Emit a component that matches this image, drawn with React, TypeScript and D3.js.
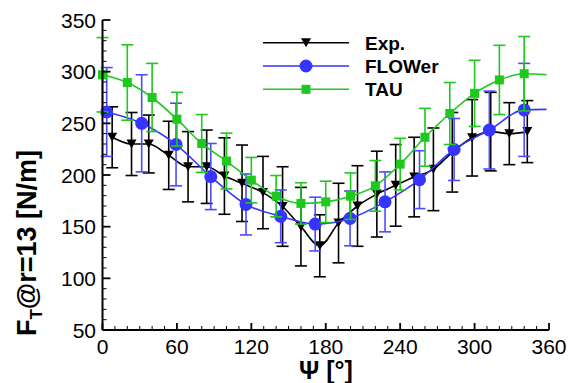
import React from "react";
import * as d3 from "d3";

// ---- data ----
const expPsi = [7.8, 23.4, 37.3, 53.4, 69, 84, 98.3, 112.5, 129.4, 145.2, 160, 175.2, 190.3, 205.6, 221.2, 236.4, 251.3, 266.8, 282, 298, 313, 328, 342.5];
const expVal = [236.5, 230, 230, 219, 208, 208, 199, 192, 183, 169.5, 150, 131.5, 153.5, 170, 181.5, 190, 198, 205.5, 222, 236, 242, 240, 242];
const expErr = [29.5, 30.5, 28, 33, 34, 35.5, 37, 37, 35, 38.5, 38, 30, 38.5, 39, 41.5, 39.5, 38.5, 40, 38.5, 37, 38, 30, 30];

const flowerPsi = [3.4, 31.6, 59.3, 87.3, 115.7, 143.7, 171.5, 199.6, 227.8, 255.6, 283.5, 311.9, 340];
const flowerVal = [261, 250, 229.5, 198.5, 171.5, 160, 152.5, 158, 174, 195.5, 224.7, 243.5, 263];
const flowerErr = [43, 47, 40, 32, 29.5, 25.5, 26, 26.5, 29, 28, 30, 37.7, 45];
const flowerTailPsi = [358];
const flowerTailVal = [263.5];

const tauPsi = [0, 20, 40, 60, 80, 100, 120, 140, 160, 180, 200, 220, 240, 260, 280, 300, 320, 340];
const tauVal = [297, 289.5, 275, 254, 230.5, 213.5, 195, 179.5, 172.5, 174, 179.5, 189.5, 210.5, 236.5, 259.5, 279, 292, 298];
const tauErr = [36, 36.5, 33, 26, 28, 27, 22, 20, 20, 20, 22.5, 24.5, 25, 28, 30, 32, 33.5, 36];
const tauTailPsi = [358];
const tauTailVal = [297];

const xTicks = [0, 60, 120, 180, 240, 300, 360];
const yTicks = [50, 100, 150, 200, 250, 300, 350];
const legendLabels = ["Exp.", "FLOWer", "TAU"];

const BLACK = "#000000";
const BLUE = "#3535ff";
const BLUE_BAR = "#4b4bff";
const GREEN = "#1ec81e";

const FONT = "'Liberation Sans', Arial, Helvetica, sans-serif";

export default function App() {
  const W = 570, H = 383;
  const x = d3.scaleLinear().domain([0, 360]).range([102.5, 549]);
  const y = d3.scaleLinear().domain([50, 350]).range([330, 20]);

  const xMinor = d3.range(0, 361, 10);
  const yMinor = d3.range(50, 351, 10);

  const line = d3
    .line<[number, number]>()
    .x((d) => x(d[0]))
    .y((d) => y(d[1]))
    .curve(d3.curveMonotoneX);

  const zip = (a: number[], b: number[]) => a.map((v, i) => [v, b[i]] as [number, number]);

  const triPath = "M-5,-4.5L5,-4.5L0,4.5Z";

  const errorBars = (ps: number[], vs: number[], es: number[], color: string, key: string) =>
    ps.map((p, i) => {
      const cx = x(p);
      const y1 = y(vs[i] + es[i]);
      const y2 = y(vs[i] - es[i]);
      return (
        <g key={key + i} stroke={color} strokeWidth={1.6} fill="none">
          <line x1={cx} x2={cx} y1={y1} y2={y2} />
          <line x1={cx - 6} x2={cx + 6} y1={y1} y2={y1} />
          <line x1={cx - 6} x2={cx + 6} y1={y2} y2={y2} />
        </g>
      );
    });

  const legendY = [42.7, 66, 89.3];

  return (
    <svg
      width={W}
      height={H}
      style={{ position: "absolute", left: 0, top: 0, background: "#fff" }}
      fontFamily={FONT}
    >
      {/* Exp series */}
      <g>
        {errorBars(expPsi, expVal, expErr, BLACK, "eb")}
        <path d={line(zip(expPsi, expVal)) || ""} fill="none" stroke={BLACK} strokeWidth={1.6} />
        {expPsi.map((p, i) => (
          <path key={"em" + i} d={triPath} transform={`translate(${x(p)},${y(expVal[i])})`} fill={BLACK} />
        ))}
      </g>
      {/* FLOWer series */}
      <g>
        {errorBars(flowerPsi, flowerVal, flowerErr, BLUE_BAR, "fb")}
        <path
          d={line(zip(flowerPsi.concat(flowerTailPsi), flowerVal.concat(flowerTailVal))) || ""}
          fill="none"
          stroke={BLUE}
          strokeWidth={1.6}
        />
        {flowerPsi.map((p, i) => (
          <circle key={"fm" + i} cx={x(p)} cy={y(flowerVal[i])} r={6.5} fill={BLUE} />
        ))}
      </g>
      {/* TAU series */}
      <g>
        {errorBars(tauPsi, tauVal, tauErr, GREEN, "tb")}
        <path
          d={line(zip(tauPsi.concat(tauTailPsi), tauVal.concat(tauTailVal))) || ""}
          fill="none"
          stroke={GREEN}
          strokeWidth={1.6}
        />
        {tauPsi.map((p, i) => (
          <rect key={"tm" + i} x={x(p) - 4.5} y={y(tauVal[i]) - 4.5} width={9} height={9} fill={GREEN} />
        ))}
      </g>

      {/* axes */}
      <g stroke="#000" fill="none">
        <line x1={x(0)} x2={x(360)} y1={y(50)} y2={y(50)} strokeWidth={2} />
        <line x1={x(0)} x2={x(0)} y1={y(50)} y2={y(350)} strokeWidth={2} />
        {xMinor.map((t) => (
          <line key={"xm" + t} x1={x(t)} x2={x(t)} y1={y(50)} y2={y(50) - (t % 60 === 0 ? 7 : 4)} strokeWidth={t % 60 === 0 ? 1.8 : 1} />
        ))}
        {yMinor.map((t) => (
          <line key={"ym" + t} x1={x(0)} x2={x(0) + (t % 50 === 0 ? 8 : 4)} y1={y(t)} y2={y(t)} strokeWidth={t % 50 === 0 ? 1.8 : 1} />
        ))}
      </g>
      <g fontSize={21} fill="#000">
        {xTicks.map((t) => (
          <text key={"xt" + t} x={x(t)} y={354} textAnchor="middle">
            {t}
          </text>
        ))}
        {yTicks.map((t) => (
          <text key={"yt" + t} x={96} y={y(t)} dy="0.36em" textAnchor="end">
            {t}
          </text>
        ))}
      </g>

      {/* axis titles */}
      <text x={326} y={379} textAnchor="middle" fontSize={25} fontWeight="bold">
        Ψ [°]
      </text>
      <text
        transform="translate(36,243) rotate(-90)"
        textAnchor="middle"
        fontSize={27}
        fontWeight="bold"
      >
        F<tspan fontSize={17} dy={6}>T</tspan>
        <tspan dy={-6}>@r=13 [N/m]</tspan>
      </text>

      {/* legend */}
      <g>
        {[BLACK, BLUE, GREEN].map((c, i) => (
          <line key={"ll" + i} x1={263} x2={349} y1={legendY[i]} y2={legendY[i]} stroke={c} strokeWidth={1.6} />
        ))}
        <path d={triPath} transform={`translate(306,${legendY[0]})`} fill={BLACK} />
        <circle cx={306} cy={legendY[1]} r={6.5} fill={BLUE} />
        <rect x={301.5} y={legendY[2] - 4.5} width={9} height={9} fill={GREEN} />
        {legendLabels.map((l, i) => (
          <text key={"lt" + i} x={365} y={legendY[i]} dy="0.36em" fontSize={19} fontWeight="bold">
            {l}
          </text>
        ))}
      </g>
    </svg>
  );
}
